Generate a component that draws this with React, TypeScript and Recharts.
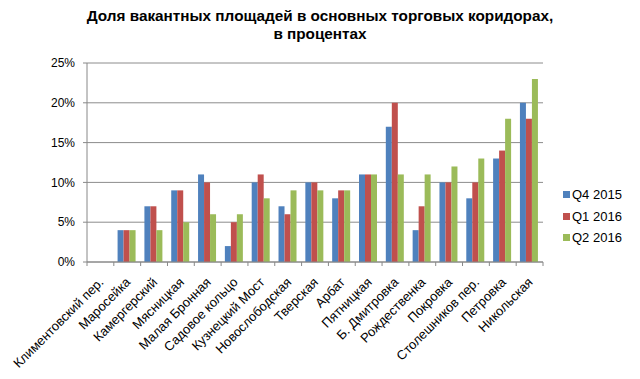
import React from 'react';
import { BarChart, Bar, XAxis, YAxis, CartesianGrid } from 'recharts';

const categories = [
  'Климентовский пер.', 'Маросейка', 'Камергерский', 'Мясницкая', 'Малая Бронная',
  'Садовое кольцо', 'Кузнецкий Мост', 'Новослободская', 'Тверская', 'Арбат',
  'Пятницкая', 'Б. Дмитровка', 'Рождественка', 'Покровка', 'Столешников пер.',
  'Петровка', 'Никольская',
];
const q4_2015 = [0, 4, 7, 9, 11, 2, 10, 7, 10, 8, 11, 17, 4, 10, 8, 13, 20];
const q1_2016 = [0, 4, 7, 9, 10, 5, 11, 6, 10, 9, 11, 20, 7, 10, 10, 14, 18];
const q2_2016 = [0, 4, 4, 5, 6, 6, 8, 9, 9, 9, 11, 11, 11, 12, 13, 18, 23];
const yTicks = [0, 5, 10, 15, 20, 25];
const seriesNames = ['Q4 2015', 'Q1 2016', 'Q2 2016'];
const colors = ['#4F81BD', '#C0504D', '#9BBB59'];

const data = categories.map((c, i) => ({ name: c, q4: q4_2015[i], q1: q1_2016[i], q2: q2_2016[i] }));

const FONT = '"Liberation Sans", Arial, sans-serif';

const XTick = (props: any) => {
  const { x, y, payload, index } = props;
  const off = payload.offset || 0;
  const tx = x + 4;
  const ty = y + 13;
  return (
    <g>
      <line x1={x - off} x2={x - off} y1={y - 8} y2={y - 4} stroke="#888" />
      {index === categories.length - 1 && (
        <line x1={x + off} x2={x + off} y1={y - 8} y2={y - 4} stroke="#888" />
      )}
      <text
        x={tx}
        y={ty}
        textAnchor="end"
        transform={`rotate(-45, ${tx}, ${ty})`}
        fontSize={13}
        fontFamily={FONT}
        fill="#000"
      >
        {payload.value}
      </text>
    </g>
  );
};

export default function App() {
  return (
    <div style={{ position: 'absolute', left: 0, top: 0, width: 640, height: 379, background: '#fff' }}>
      <div
        style={{
          position: 'absolute', left: 0, top: 7, width: 640, textAlign: 'center',
          fontFamily: FONT, fontWeight: 'bold', fontSize: 15.3, lineHeight: '18px', color: '#000',
        }}
      >
        Доля вакантных площадей в основных торговых коридорах,
        <br />
        в процентах
      </div>
      <BarChart
        width={640}
        height={379}
        data={data}
        margin={{ top: 63, right: 97, bottom: 0, left: 0 }}
        barCategoryGap="14%"
        barGap={0}
      >
        <CartesianGrid vertical={false} stroke="#8c8c8c" />
        <XAxis
          dataKey="name"
          interval={0}
          height={117}
          tick={<XTick />}
          tickLine={false}
          axisLine={{ stroke: '#888' }}
        />
        <YAxis
          domain={[0, 25]}
          ticks={yTicks}
          tickFormatter={(v: number) => `${v}%`}
          width={87}
          tickSize={4}
          tickMargin={8}
          axisLine={{ stroke: '#888' }}
          tickLine={{ stroke: '#888' }}
          tick={{ fontSize: 12, fontFamily: FONT, fill: '#000' }}
        />
        <Bar dataKey="q4" name={seriesNames[0]} fill={colors[0]} isAnimationActive={false} />
        <Bar dataKey="q1" name={seriesNames[1]} fill={colors[1]} isAnimationActive={false} />
        <Bar dataKey="q2" name={seriesNames[2]} fill={colors[2]} isAnimationActive={false} />
      </BarChart>
      <div style={{ position: 'absolute', left: 563, top: 184, fontFamily: FONT, fontSize: 13, color: '#000' }}>
        {seriesNames.map((n, i) => (
          <div key={n} style={{ display: 'flex', alignItems: 'center', height: 21.5 }}>
            <span style={{ display: 'inline-block', width: 7, height: 7, background: colors[i], marginRight: 2 }} />
            <span>{n}</span>
          </div>
        ))}
      </div>
    </div>
  );
}
